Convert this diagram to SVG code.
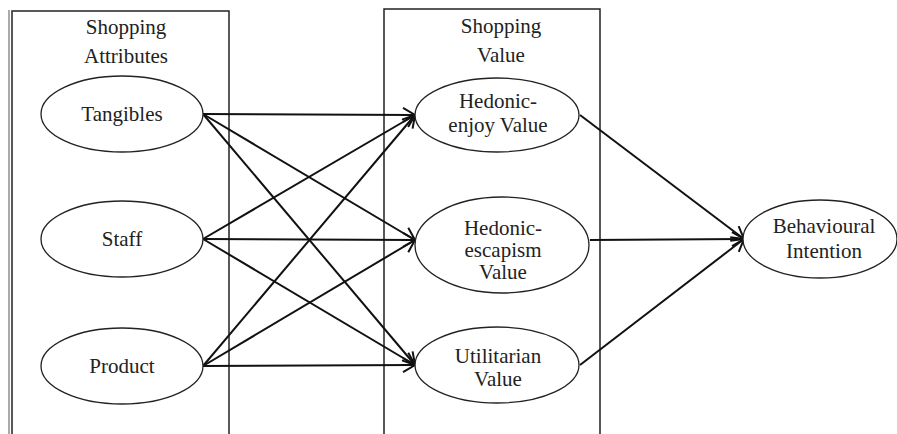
<svg xmlns="http://www.w3.org/2000/svg" width="897" height="434" viewBox="0 0 897 434">
<style>
.box{fill:none;stroke:#222;stroke-width:1.5}
.node ellipse{fill:#fff;stroke:#222;stroke-width:1.3}
text{font-family:"Liberation Serif","Times New Roman",serif;font-size:21px;fill:#222;text-anchor:middle}
.edge{stroke:#111;stroke-width:2;fill:none;marker-end:url(#arr)}
</style>
<defs>
<marker id="arr" markerUnits="userSpaceOnUse" markerWidth="16" markerHeight="16" viewBox="0 0 16 16" refX="14" refY="8" orient="auto">
<path d="M2,1 L14,8 L2,15" fill="none" stroke="#111" stroke-width="2"/>
</marker>
</defs>
<rect width="897" height="434" fill="#fff"/>
<g id="box-attributes">
<line x1="9" y1="10" x2="9" y2="434" stroke="#aaa" stroke-width="2"/>
<polyline class="box" points="12,434 12,11 229,11 229,434"/>
<text x="126" y="34">Shopping</text>
<text x="126" y="63">Attributes</text>
</g>
<g id="box-value">
<polyline class="box" points="384,434 384,9 600,9 600,434"/>
<text x="501" y="33">Shopping</text>
<text x="501" y="62">Value</text>
</g>
<g id="connectors">
<line class="edge" x1="203" y1="114" x2="415" y2="115"/>
<line class="edge" x1="203" y1="114" x2="415" y2="240"/>
<line class="edge" x1="203" y1="114" x2="415" y2="365"/>
<line class="edge" x1="203" y1="239" x2="415" y2="115"/>
<line class="edge" x1="203" y1="239" x2="415" y2="240"/>
<line class="edge" x1="203" y1="239" x2="415" y2="365"/>
<line class="edge" x1="203" y1="366" x2="415" y2="115"/>
<line class="edge" x1="203" y1="366" x2="415" y2="240"/>
<line class="edge" x1="203" y1="366" x2="415" y2="365"/>
<line class="edge" x1="580" y1="115" x2="744" y2="239"/>
<line class="edge" x1="590" y1="240" x2="744" y2="239"/>
<line class="edge" x1="580" y1="365" x2="744" y2="239"/>
</g>
<g id="node-tangibles" class="node">
<ellipse cx="122" cy="114" rx="81" ry="38"/>
<text x="122" y="121">Tangibles</text>
</g>
<g id="node-staff" class="node">
<ellipse cx="122" cy="239" rx="81" ry="38"/>
<text x="122" y="246">Staff</text>
</g>
<g id="node-product" class="node">
<ellipse cx="122" cy="366" rx="81" ry="38"/>
<text x="122" y="373">Product</text>
</g>
<g id="node-hedonic-enjoy" class="node">
<ellipse cx="497" cy="115" rx="82" ry="37"/>
<text x="498" y="108">Hedonic-</text>
<text x="498" y="132">enjoy Value</text>
</g>
<g id="node-hedonic-escapism" class="node">
<ellipse cx="502" cy="245" rx="87" ry="48"/>
<text x="503" y="235">Hedonic-</text>
<text x="503" y="257">escapism</text>
<text x="503" y="279">Value</text>
</g>
<g id="node-utilitarian" class="node">
<ellipse cx="497" cy="365" rx="82" ry="38"/>
<text x="498" y="363">Utilitarian</text>
<text x="498" y="386">Value</text>
</g>
<g id="node-behavioural" class="node">
<ellipse cx="820" cy="239" rx="77" ry="39"/>
<text x="824" y="233">Behavioural</text>
<text x="824" y="258">Intention</text>
</g>
</svg>
